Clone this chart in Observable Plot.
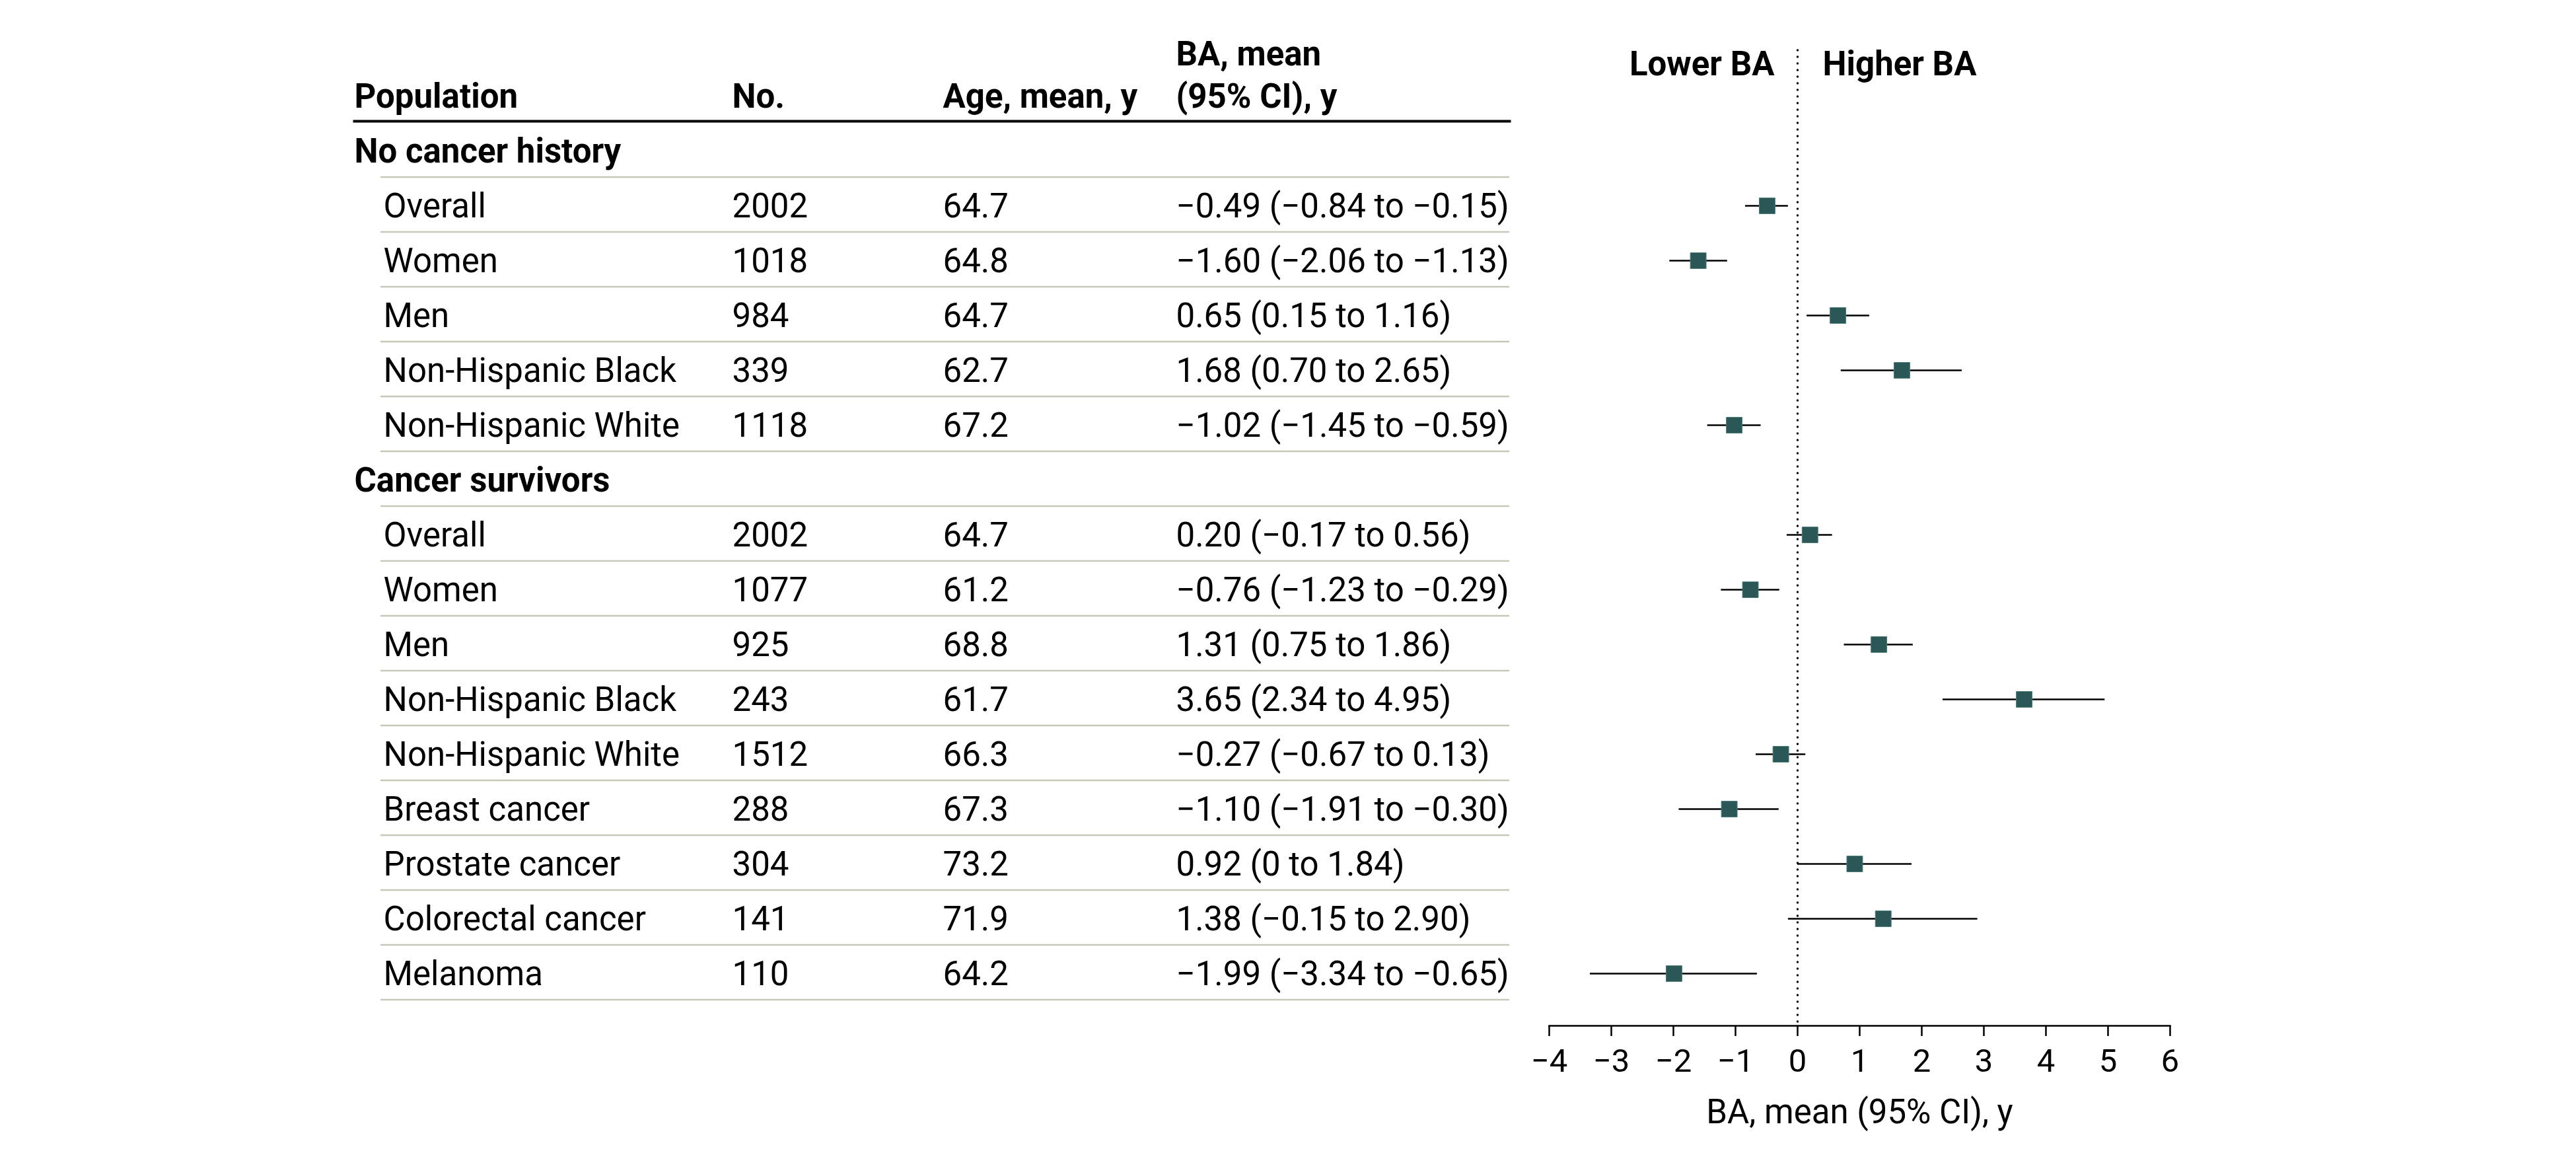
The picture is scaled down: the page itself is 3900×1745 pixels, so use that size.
<!DOCTYPE html>
<html><head><meta charset="utf-8">
<script src="https://cdn.jsdelivr.net/npm/d3@7"></script>
<script src="https://cdn.jsdelivr.net/npm/@observablehq/plot@0.6"></script>
<style>
html,body{margin:0;padding:0;background:#fff;}
#chart{display:flex;width:3900px;height:1745px;background:#fff;}
</style></head><body><div id="chart"></div>
<script>
// ---- data ----
const groups = ["No cancer history", "Cancer survivors"];
const rowGroup = [0,0,0,0,0,1,1,1,1,1,1,1,1,1];
const labels = ["Overall","Women","Men","Non-Hispanic Black","Non-Hispanic White",
  "Overall","Women","Men","Non-Hispanic Black","Non-Hispanic White",
  "Breast cancer","Prostate cancer","Colorectal cancer","Melanoma"];
const counts = [2002,1018,984,339,1118,2002,1077,925,243,1512,288,304,141,110];
const ages = [64.7,64.8,64.7,62.7,67.2,64.7,61.2,68.8,61.7,66.3,67.3,73.2,71.9,64.2];
const baMean = [-0.49,-1.60,0.65,1.68,-1.02,0.20,-0.76,1.31,3.65,-0.27,-1.10,0.92,1.38,-1.99];
const baLow  = [-0.84,-2.06,0.15,0.70,-1.45,-0.17,-1.23,0.75,2.34,-0.67,-1.91,0,-0.15,-3.34];
const baHigh = [-0.15,-1.13,1.16,2.65,-0.59,0.56,-0.29,1.86,4.95,0.13,-0.30,1.84,2.90,-0.65];
const headers = ["Population", "No.", "Age, mean, y", "BA, mean\n(95% CI), y"];
const xTicks = [-4,-3,-2,-1,0,1,2,3,4,5,6];
const xLabel = "BA, mean (95% CI), y";
const sideLabels = ["Lower BA", "Higher BA"];

// ---- table build ----
const fmt = v => v === 0 ? "0" : (v < 0 ? "\u2212" : "") + Math.abs(v).toFixed(2);
const rows = [];
let lastGroup = -1;
labels.forEach((lab, i) => {
  if (rowGroup[i] !== lastGroup) {
    lastGroup = rowGroup[i];
    rows.push({id: rows.length, kind: "group", label: groups[lastGroup]});
  }
  rows.push({id: rows.length, kind: "row", label: lab, n: String(counts[i]),
    age: ages[i].toFixed(1), mean: baMean[i], lo: baLow[i], hi: baHigh[i],
    ba: `${fmt(baMean[i])} (${fmt(baLow[i])} to ${fmt(baHigh[i])})`});
});
const ids = rows.map(d => d.id);
const groupRows = rows.filter(d => d.kind === "group");
const dataRows = rows.filter(d => d.kind === "row");

// ---- layout / style ----
const FONT = "Roboto, 'Liberation Sans', sans-serif";
const FS = 51;
const ROW_TOP = 184.5, ROW_H = 83;
const yScale = {type: "point", domain: ids, range: [ROW_TOP, ROW_TOP + ROW_H * rows.length], padding: 0.5, axis: null};
const colDx = [0, 572, 891, 1244];
const labelIndent = 44;
const GRAY = "#c5c9b8";
const SQUARE = "#2b5856";

const tableMarks = [
  Plot.frame({anchor: "top", stroke: "black", strokeWidth: 4}),
  Plot.ruleY(rows, {y: "id", dy: ROW_H / 2, insetLeft: 40, stroke: GRAY, strokeWidth: 2.5}),
  Plot.text(groupRows, {y: "id", text: "label", frameAnchor: "left", textAnchor: "start", fontWeight: "bold", fontSize: FS, dy: 3}),
  Plot.text(dataRows, {y: "id", text: "label", frameAnchor: "left", textAnchor: "start", dx: labelIndent, fontSize: FS, dy: 3}),
  Plot.text(dataRows, {y: "id", text: "n", frameAnchor: "left", textAnchor: "start", dx: colDx[1], fontSize: FS, dy: 3}),
  Plot.text(dataRows, {y: "id", text: "age", frameAnchor: "left", textAnchor: "start", dx: colDx[2], fontSize: FS, dy: 3}),
  Plot.text(dataRows, {y: "id", text: "ba", frameAnchor: "left", textAnchor: "start", dx: colDx[3], fontSize: FS, dy: 3}),
  ...headers.map((h, i) => Plot.text([h], {text: d => d, frameAnchor: "top-left", textAnchor: "start",
    lineAnchor: "bottom", lineHeight: 1.24, dx: colDx[i], dy: -21, fontWeight: "bold", fontSize: FS}))
];

const table = Plot.plot({
  width: 2300, height: 1745,
  marginLeft: 536, marginRight: 15, marginTop: 183, marginBottom: 193,
  y: yScale,
  style: {fontFamily: FONT, background: "white", color: "black"},
  marks: tableMarks
});

const forest = Plot.plot({
  width: 1600, height: 1745,
  marginLeft: 45, marginRight: 615, marginTop: 76, marginBottom: 193,
  x: {domain: [xTicks[0], xTicks[xTicks.length - 1]]},
  y: yScale,
  style: {fontFamily: FONT, background: "white", color: "black"},
  marks: [
    Plot.ruleX([0], {stroke: "black", strokeWidth: 3.5, strokeDasharray: "0 10", strokeLinecap: "round"}),
    Plot.frame({anchor: "bottom", stroke: "black", strokeWidth: 2.5}),
    Plot.axisX({ticks: xTicks, tickSize: 16, tickPadding: 19,
      fontSize: 49, strokeWidth: 2.5, label: null}),
    Plot.ruleY(dataRows, {y: "id", x1: "lo", x2: "hi", stroke: "black", strokeWidth: 2.5, dy: 2}),
    Plot.dot(dataRows, {x: "mean", y: "id", symbol: "square", r: 13.5, fill: SQUARE, stroke: "#4d7c79", strokeWidth: 1, dy: 2}),
    Plot.text([sideLabels[0]], {text: d => d, x: 0, frameAnchor: "top", textAnchor: "end", dx: -35,
      lineAnchor: "bottom", dy: 37, fontWeight: "bold", fontSize: FS}),
    Plot.text([sideLabels[1]], {text: d => d, x: 0, frameAnchor: "top", textAnchor: "start", dx: 38,
      lineAnchor: "bottom", dy: 37, fontWeight: "bold", fontSize: FS}),
    Plot.text([xLabel], {text: d => d, frameAnchor: "bottom", lineAnchor: "bottom", dy: 147, fontSize: FS})
  ]
});

const chart = document.getElementById("chart");
chart.appendChild(table);
chart.appendChild(forest);
</script></body></html>
